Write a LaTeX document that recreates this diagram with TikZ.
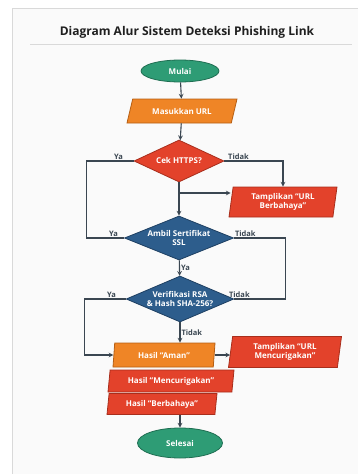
\documentclass[tikz,border=0pt]{standalone}
\usepackage{fontspec}
\setmainfont{Open Sans}
\usepackage{xcolor}
\usetikzlibrary{shapes.geometric, arrows, positioning}
\definecolor{hijau}{HTML}{2E9C75}
\definecolor{hijauTua}{HTML}{1F6E52}
\definecolor{oranye}{HTML}{EF8526}
\definecolor{oranyeTua}{HTML}{B65F14}
\definecolor{merah}{HTML}{E3422B}
\definecolor{merahTua}{HTML}{A82E1C}
\definecolor{biru}{HTML}{2D5D8C}
\definecolor{biruTua}{HTML}{1D3F62}
\definecolor{garis}{HTML}{3A4651}
\tikzset{
	>=stealth,
	align=center,
	every node/.style={font=\bfseries\fontsize{8}{9.5}\selectfont},
	terminal/.style={ellipse, draw=hijauTua, thick, fill=hijau, text=white, inner sep=0pt},
	masukan/.style={trapezium, trapezium stretches body=true, trapezium left angle=55, trapezium right angle=125, thick, text=white, inner sep=1pt},
	hasil/.style={masukan, trapezium left angle=78, trapezium right angle=102, fill=merah, draw=merahTua},
	keputusan/.style={diamond, shape aspect=2.4, thick, fill=biru, draw=biruTua, text=white, inner sep=0.5pt},
	alur/.style={draw=garis, line width=1.1pt},
	ket/.style={font=\bfseries\fontsize{7.5}{9}\selectfont, text=garis, inner sep=1pt}
}
\begin{document}
\begin{tikzpicture}[x=1pt, y=-1pt]
	\useasboundingbox (0,0) rectangle (357,474);
	\fill[white] (0,0) rectangle (357,474);
	\draw[draw=black!15, fill=black!2] (12,8) rectangle (370,490);
	\node[font=\bfseries\fontsize{12}{14}\selectfont, text=black!88] (judul) at (187,32) {Diagram Alur Sistem Deteksi Phishing Link};
	\draw[black!15, thin] (30,44) -- (352,44);

	\node[terminal, minimum width=78, minimum height=22] (mulai) at (180,71) {Mulai};
	\node[masukan, fill=oranye, draw=oranyeTua, minimum width=110, minimum height=24] (url) at (182,111) {Masukkan URL};
	\node[keputusan, fill=merah, draw=merahTua, minimum width=90, minimum height=42] (https) at (179,161) {Cek HTTPS?};
	\node[hasil, minimum width=108, minimum height=30] (bahaya) at (283,202) {Tamplikan “URL\\Berbahaya”};
	\node[keputusan, minimum width=109, minimum height=44] (ssl) at (179,238) {Ambil Sertifikat\\SSL};
	\node[keputusan, minimum width=107, minimum height=46] (rsa) at (180,299) {Verifikasi RSA\\\& Hash SHA-256?};
	\node[hasil, fill=oranye, draw=oranyeTua, minimum width=102, minimum height=24] (aman) at (164,355) {Hasil “Aman”};
	\node[hasil, minimum width=113, minimum height=31] (curiga) at (285,352) {Tamplikan “URL\\Mencurigakan”};
	\node[hasil, minimum width=126, minimum height=22] (hcuriga) at (171,381) {Hasil “Mencurigakan”};
	\node[hasil, minimum width=110, minimum height=21] (hbahaya) at (162,404) {Hasil “Berbahaya”};
	\node[terminal, minimum width=85, minimum height=30] (selesai) at (180,443) {Selesai};

	\draw[alur, ->] (mulai) -- (url);
	\draw[alur, ->] (url) -- (https);
	\draw[alur, ->] (https) -- (ssl);
	\coordinate (cabang) at (180,193);
	\draw[alur, ->] (cabang) -- (cabang -| bahaya.west);
	\draw[alur, ->] (https.east) -| node[ket, above, pos=0.12]{Tidak} (bahaya.north);
	\draw[alur] (https.west) -- node[ket, above, pos=0.32]{Ya} ++(-47,0) |- node[ket, above, pos=0.86]{Ya} (ssl.west);
	\draw[alur] (ssl.east) -- node[ket, above, pos=0.22]{Tidak} ++(52,0) |- node[ket, above, pos=0.95]{Tidak} (rsa.east);
	\draw[alur, ->] (ssl) -- node[ket, right]{Ya} (rsa);
	\draw[alur, ->] (rsa.west) -- node[ket, above, pos=0.35]{Ya} ++(-41,0) |- (aman.west);
	\draw[alur, ->] (rsa.south) -- node[ket, right]{Tidak} (rsa.south |- aman.north);
	\draw[alur, ->] (aman.east) -- (aman.east -| curiga.west);
	\draw[alur, ->] (selesai.north |- hbahaya.south) -- (selesai);
\end{tikzpicture}
\end{document}
